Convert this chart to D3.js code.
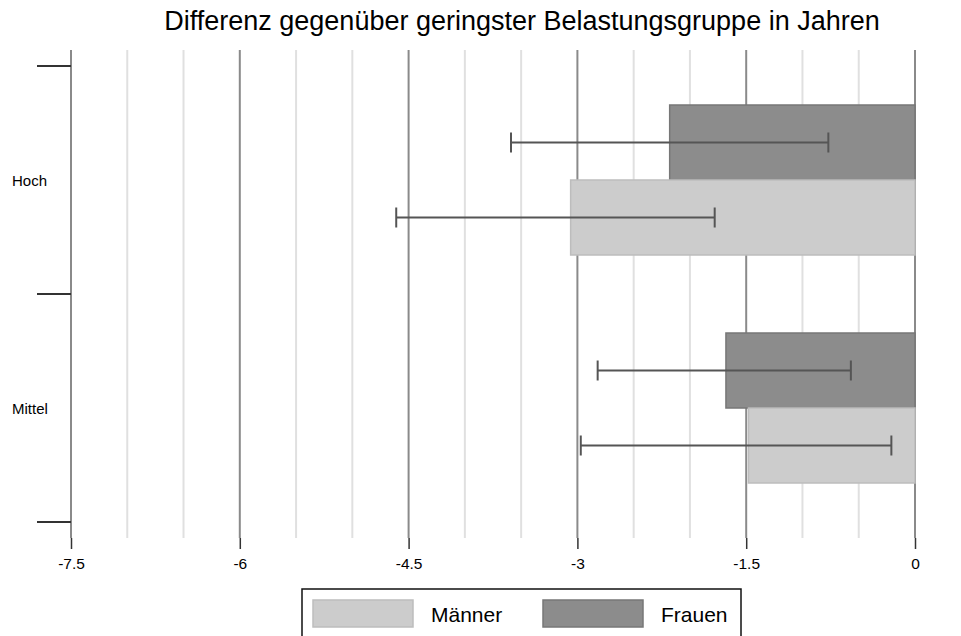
<!DOCTYPE html>
<html>
  <head>
    <meta charset="utf-8">
    <title>Differenz gegenüber geringster Belastungsgruppe</title>
    <script src="https://cdn.jsdelivr.net/npm/d3@7"></script>
    <style>
      body { margin: 0; background: #fff; }
      text { font-family: "Liberation Sans", Arial, sans-serif; }
    </style>
  </head>
  <body>
    <svg id="chart" width="961" height="636"></svg>

    <script>
      // data
      const groups = ["Hoch", "Mittel"];
      const series = ["Frauen", "Männer"];
      const frauen = [-2.18, -1.68];
      const frauenLow = [-3.59, -2.82];
      const frauenHigh = [-0.77, -0.57];
      const maenner = [-3.06, -1.48];
      const maennerLow = [-4.61, -2.97];
      const maennerHigh = [-1.78, -0.21];
      const majorTicks = [-7.5, -6, -4.5, -3, -1.5, 0];
      const minorTicks = [-7, -6.5, -5.5, -5, -4, -3.5, -2.5, -2, -1, -0.5];

      const colours = { "Frauen": "#8c8c8c", "Männer": "#cccccc" };
      const strokes = { "Frauen": "#777777", "Männer": "#bdbdbd" };

      const rows = [];
      groups.forEach(function(g, i) {
        rows.push({ group: g, series: "Frauen", value: frauen[i], lo: frauenLow[i], hi: frauenHigh[i] });
        rows.push({ group: g, series: "Männer", value: maenner[i], lo: maennerLow[i], hi: maennerHigh[i] });
      });

      const svg = d3.select("#chart");
      const plotTop = 50, plotBottom = 538;

      const x = d3.scaleLinear().domain([-7.5, 0]).range([71, 915]);
      const y = d3.scaleBand().domain(groups).range([66, 522]);
      const yInner = d3.scaleBand().domain(series)
        .range([0, y.bandwidth()])
        .paddingOuter(0.52);

      // title
      svg.append("text")
        .attr("x", 522)
        .attr("y", 30)
        .attr("text-anchor", "middle")
        .style("font-size", "27px")
        .text("Differenz gegenüber geringster Belastungsgruppe in Jahren");

      // gridlines
      svg.append("g")
        .selectAll("line")
        .data(minorTicks)
        .join("line")
          .attr("x1", d => x(d)).attr("x2", d => x(d))
          .attr("y1", plotTop).attr("y2", plotBottom)
          .attr("stroke", "#e0e0e0")
          .attr("stroke-width", 2);

      svg.append("g")
        .selectAll("line")
        .data(majorTicks)
        .join("line")
          .attr("x1", d => x(d)).attr("x2", d => x(d))
          .attr("y1", plotTop).attr("y2", plotBottom)
          .attr("stroke", "#8a8a8a")
          .attr("stroke-width", 2);

      // bottom axis
      const xAxis = svg.append("g")
        .attr("transform", "translate(0," + plotBottom + ")")
        .call(d3.axisBottom(x)
          .tickValues(majorTicks)
          .tickFormat(d => d3.format("")(d).replace("−", "-"))
          .tickSize(11)
          .tickPadding(9));
      xAxis.select(".domain").remove();
      xAxis.selectAll(".tick line").attr("stroke", "#333").attr("stroke-width", 1.5);
      xAxis.selectAll(".tick text")
        .style("font-size", "15.5px")
        .style("font-family", "'Liberation Sans', Arial, sans-serif")
        .attr("fill", "#000");

      // category ticks at band edges
      const edges = groups.map(g => y(g)).concat([y(groups[groups.length - 1]) + y.bandwidth()]);
      svg.append("g")
        .selectAll("line")
        .data(edges)
        .join("line")
          .attr("x1", 37).attr("x2", 71)
          .attr("y1", d => d).attr("y2", d => d)
          .attr("stroke", "#333")
          .attr("stroke-width", 2);

      svg.append("g")
        .selectAll("text")
        .data(groups)
        .join("text")
          .attr("x", 12)
          .attr("y", d => y(d) + y.bandwidth() / 2 + 6)
          .style("font-size", "15px")
          .text(d => d);

      // bars
      svg.append("g")
        .selectAll("rect")
        .data(rows)
        .join("rect")
          .attr("x", d => x(d.value))
          .attr("width", d => x(0) - x(d.value))
          .attr("y", d => y(d.group) + yInner(d.series))
          .attr("height", yInner.bandwidth())
          .attr("fill", d => colours[d.series])
          .attr("stroke", d => strokes[d.series])
          .attr("stroke-width", 1.5);

      // error bars
      const err = svg.append("g")
        .attr("stroke", "#555")
        .attr("stroke-width", 2)
        .selectAll("g")
        .data(rows)
        .join("g")
          .attr("transform", d => "translate(0," + (y(d.group) + yInner(d.series) + yInner.bandwidth() / 2) + ")");
      err.append("line")
        .attr("x1", d => x(d.lo)).attr("x2", d => x(d.hi))
        .attr("y1", 0).attr("y2", 0);
      err.append("line")
        .attr("x1", d => x(d.lo)).attr("x2", d => x(d.lo))
        .attr("y1", -10).attr("y2", 10);
      err.append("line")
        .attr("x1", d => x(d.hi)).attr("x2", d => x(d.hi))
        .attr("y1", -10).attr("y2", 10);

      // legend
      const legend = svg.append("g");
      legend.append("rect")
        .attr("x", 302).attr("y", 589)
        .attr("width", 439).attr("height", 60)
        .attr("fill", "#fff")
        .attr("stroke", "#111")
        .attr("stroke-width", 1.5);
      const legendItems = [
        { name: "Männer", x: 313 },
        { name: "Frauen", x: 543 }
      ];
      legendItems.forEach(function(item) {
        legend.append("rect")
          .attr("x", item.x).attr("y", 600)
          .attr("width", 100).attr("height", 27)
          .attr("fill", colours[item.name])
          .attr("stroke", strokes[item.name])
          .attr("stroke-width", 1.5);
        legend.append("text")
          .attr("x", item.x + 118)
          .attr("y", 622)
          .style("font-size", "21px")
          .text(item.name);
      });
    </script>
  </body>
</html>
